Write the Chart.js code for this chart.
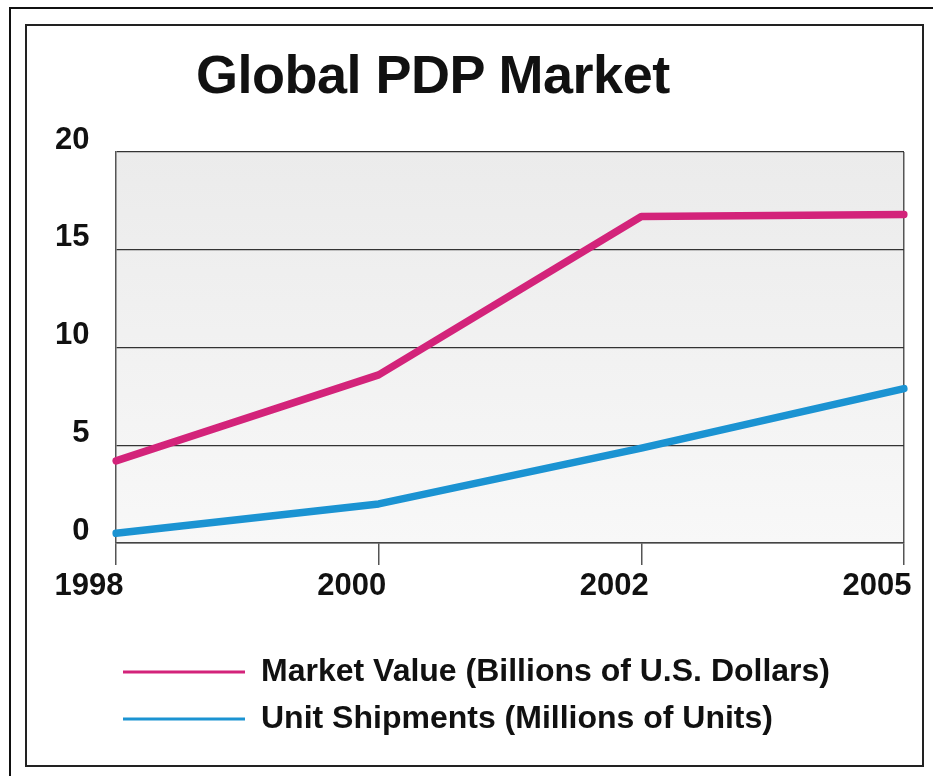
<!DOCTYPE html>
<html>
<head>
<meta charset="utf-8">
<script src="https://cdn.jsdelivr.net/npm/chart.js@4.4.1/dist/chart.umd.min.js"></script>
<style>
    html, body { margin: 0; padding: 0; background: #fff; }
    body { width: 933px; height: 776px; position: relative; overflow: hidden; }
    .outer { position: absolute; left: 9px; top: 7px; width: 940px; height: 800px; border: 2px solid #111; }
    .inner { position: absolute; left: 25px; top: 24px; width: 895px; height: 739px; border: 2px solid #222; }
    .title {
        position: absolute; left: 196px; top: 47px; margin: 0;
        font: bold 54px 'Liberation Sans', Arial, sans-serif; line-height: 54px; color: #111;
        letter-spacing: -0.5px;
    }
    .chartBox { position: absolute; left: 0; top: 0; width: 933px; height: 776px; }
</style>
</head>
<body>
<div class="outer"></div>
<div class="inner"></div>
<h1 class="title">Global PDP Market</h1>
<div class="chartBox"><canvas id="pdpMarket"></canvas></div>
<script>
// dados
const years = ['1998', '2000', '2002', '2005'];
const marketValue = [4.2, 8.6, 16.7, 16.8];    // bilhões de US$
const unitShipments = [0.5, 2.0, 4.85, 7.9];   // milhões de unidades
const yTicks = [0, 5, 10, 15, 20];

const seriesNames = ['Market Value (Billions of U.S. Dollars)', 'Unit Shipments (Millions of Units)'];
const seriesColors = ['#d3237a', '#1b93d2'];

const FONT = "'Liberation Sans', Arial, sans-serif";

// fundo cinza do plot
const plotBackground = {
    id: 'plotBackground',
    beforeDraw(chart) {
        const {ctx, chartArea: a} = chart;
        const g = ctx.createLinearGradient(0, a.top, 0, a.bottom);
        g.addColorStop(0, '#ebebeb');
        g.addColorStop(1, '#f8f8f8');
        ctx.save();
        ctx.fillStyle = g;
        ctx.fillRect(a.left, a.top, a.right - a.left, a.bottom - a.top);
        ctx.restore();
    }
};

const ctx = document.getElementById('pdpMarket').getContext('2d');
new Chart(ctx, {
    type: 'line',
    data: {
        labels: years,
        datasets: [{
            label: seriesNames[0],
            data: marketValue,
            borderColor: seriesColors[0],
            backgroundColor: seriesColors[0],
            borderWidth: 7.5,
            pointRadius: 0,
            tension: 0,
            borderCapStyle: 'round',
            borderJoinStyle: 'round'
        }, {
            label: seriesNames[1],
            data: unitShipments,
            borderColor: seriesColors[1],
            backgroundColor: seriesColors[1],
            borderWidth: 7.5,
            pointRadius: 0,
            tension: 0,
            borderCapStyle: 'round',
            borderJoinStyle: 'round'
        }]
    },
    options: {
        responsive: true,
        maintainAspectRatio: false,
        animation: false,
        layout: {
            padding: { left: 108, right: 29, top: 152, bottom: 31 }
        },
        plugins: {
            title: { display: false },
            tooltip: { enabled: false },
            legend: {
                position: 'bottom',
                align: 'start',
                labels: {
                    boxWidth: 122,
                    boxHeight: 3,
                    padding: 15,
                    color: '#111',
                    font: { family: FONT, size: 32, weight: 'bold' },
                    generateLabels: chart => Chart.defaults.plugins.legend.labels.generateLabels(chart)
                        .map(item => ({ ...item, fillStyle: item.strokeStyle, lineWidth: 0 }))
                }
            }
        },
        scales: {
            x: {
                offset: false,
                grid: {
                    drawOnChartArea: true,
                    color: c => c.index === years.length - 1 ? '#555' : 'rgba(0,0,0,0)',
                    tickColor: '#555',
                    tickLength: 22,
                    lineWidth: 1.5
                },
                border: { color: '#444', width: 1.5 },
                ticks: {
                    color: '#111',
                    padding: 3,
                    labelOffset: -27,
                    maxRotation: 0,
                    font: { family: FONT, size: 31, weight: 'bold' }
                },
                afterFit(scale) {
                    scale.height = 98;
                    scale.paddingLeft = 0;
                    scale.paddingRight = 0;
                }
            },
            y: {
                min: 0,
                max: 20,
                afterBuildTicks(scale) {
                    scale.ticks = yTicks.map(v => ({ value: v }));
                },
                grid: {
                    color: '#333',
                    lineWidth: 1.2,
                    drawTicks: false
                },
                border: { color: '#555', width: 1.5 },
                ticks: {
                    // rótulos à esquerda do eixo, alinhados à direita em x≈90
                    mirror: true,
                    crossAlign: 'far',
                    padding: -61,
                    color: '#111',
                    labelOffset: -12,
                    font: { family: FONT, size: 31, weight: 'bold' }
                },
                afterFit(scale) {
                    scale.width = 8;
                    scale.paddingTop = 0;
                    scale.paddingBottom = 0;
                }
            }
        }
    },
    plugins: [plotBackground]
});
</script>
</body>
</html>
